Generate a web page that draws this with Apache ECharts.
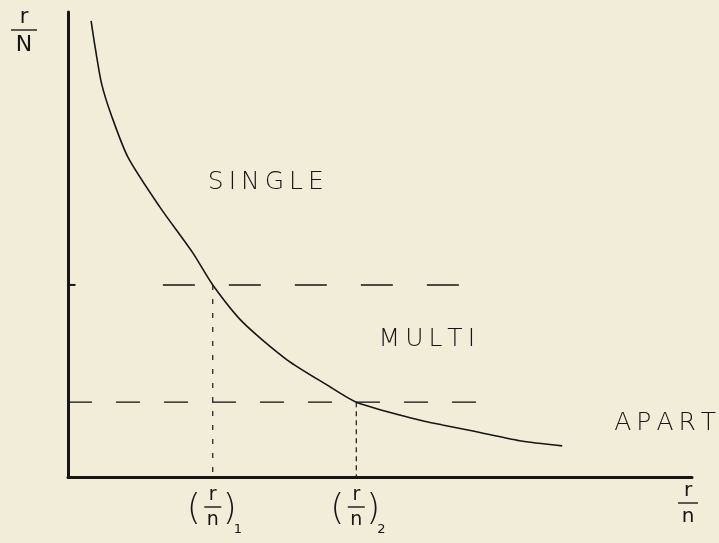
<!DOCTYPE html>
<html><head><meta charset="utf-8">
<script src="https://cdn.jsdelivr.net/npm/echarts@6/dist/echarts.min.js"></script>
<style>html,body{margin:0;padding:0;background:#f1edd8}#c{width:719px;height:543px}</style>
</head><body><div id="c"></div>
<script>
// Curve r/N versus r/n (arbitrary units 0..100)
const curveX = [3.7, 4.4, 5.4, 7.0, 9.6, 14.7, 20.0, 23.2, 28.0, 35.1, 41.5, 46.2, 55.3, 60.0, 64.9, 72.4, 79.2];
const curveY = [98.1, 92.0, 84.5, 77.6, 68.8, 58.1, 48.2, 41.3, 33.3, 25.2, 19.8, 16.1, 12.6, 11.2, 9.9, 7.8, 6.7];
// Threshold points (r/n)1 and (r/n)2
const thresholdX = [23.2, 46.2];
const thresholdY = [41.3, 16.1];
const thresholdSub = ['1', '2'];
// Horizontal dashed guide extents
const upperGuideX = [15.2, 64.9];
const lowerGuideX = [0, 68.4];
// Region labels
const regionNames = ['SINGLE', 'MULTI', 'APART'];
const regionX = [31.7, 57.5, 95.7];
const regionY = [63.4, 29.5, 11.6];

const INK = '#161616';
const FONT = 'DejaVu Sans';
const chart = echarts.init(document.getElementById('c'), null, {renderer: 'canvas'});

const line = (name, data, style) => ({
  type: 'line', name, data, showSymbol: false, silent: true, animation: false,
  lineStyle: Object.assign({color: INK, width: 1.4}, style)
});

chart.setOption({
  backgroundColor: '#f1edd8',
  animation: false,
  grid: {left: 68, right: 27, top: 12, bottom: 66},
  xAxis: {type: 'value', min: 0, max: 100, axisLine: {lineStyle: {color: INK, width: 3}},
          axisTick: {show: false}, axisLabel: {show: false}, splitLine: {show: false}},
  yAxis: {type: 'value', min: 0, max: 100, axisLine: {show: true, lineStyle: {color: INK, width: 3}},
          axisTick: {show: false}, axisLabel: {show: false}, splitLine: {show: false}},
  series: [
    Object.assign(line('curve', curveX.map((x, i) => [x, curveY[i]]), {width: 1.6}), {smooth: 0.25}),
    line('upperTick', [[0, thresholdY[0]], [1.2, thresholdY[0]]], {width: 2}),
    line('upperGuide', [[upperGuideX[0], thresholdY[0]], [upperGuideX[1], thresholdY[0]]], {type: [32, 34], width: 1.5}),
    line('lowerGuide', [[lowerGuideX[0], thresholdY[1]], [lowerGuideX[1], thresholdY[1]]], {type: [24, 24], width: 1.3}),
    line('drop1', [[thresholdX[0], thresholdY[0]], [thresholdX[0], 0]], {type: [5, 9], width: 1.2}),
    line('drop2', [[thresholdX[1], thresholdY[1]], [thresholdX[1], 0]], {type: [5, 4], width: 1.2})
  ]
});

function frac(x, y, top, bottom, size, barW, bsize) {
  return [
    {type: 'text', x: x, y: y - 2, style: {text: top, font: size + 'px ' + FONT, fill: INK, align: 'center', verticalAlign: 'bottom'}},
    {type: 'line', shape: {x1: x - barW / 2, y1: y, x2: x + barW / 2, y2: y}, style: {stroke: INK, lineWidth: 1.4}},
    {type: 'text', x: x, y: y + 4, style: {text: bottom, font: (bsize || size) + 'px ' + FONT, fill: INK, align: 'center', verticalAlign: 'top'}}
  ];
}

const g = [];
// axis names
g.push(...frac(24, 30, 'r', 'N', 21, 26, 22));
g.push(...frac(688, 503, 'r', 'n', 20, 20));
// threshold tick labels
thresholdX.forEach((x, i) => {
  const p = chart.convertToPixel({gridIndex: 0}, [x, 0]);
  const cy = 507;
  g.push(...frac(p[0], cy, 'r', 'n', 19, 17));
  g.push({type: 'text', x: p[0] - 19, y: cy + 3, style: {text: '(', font: '200 36px ' + FONT, fill: INK, align: 'center', verticalAlign: 'middle'}});
  g.push({type: 'text', x: p[0] + 17, y: cy + 3, style: {text: ')', font: '200 36px ' + FONT, fill: INK, align: 'center', verticalAlign: 'middle'}});
  g.push({type: 'text', x: p[0] + 25, y: cy + 23, style: {text: thresholdSub[i], font: '13px ' + FONT, fill: INK, align: 'center', verticalAlign: 'middle'}});
});
// region labels
regionNames.forEach((t, i) => {
  const p = chart.convertToPixel({gridIndex: 0}, [regionX[i], regionY[i]]);
  g.push({type: 'text', x: p[0], y: p[1], style: {text: t.split('').join('\u2009'), font: '300 25px ' + FONT, fill: INK, align: 'center', verticalAlign: 'middle'}});
});
chart.setOption({graphic: g});
</script></body></html>
